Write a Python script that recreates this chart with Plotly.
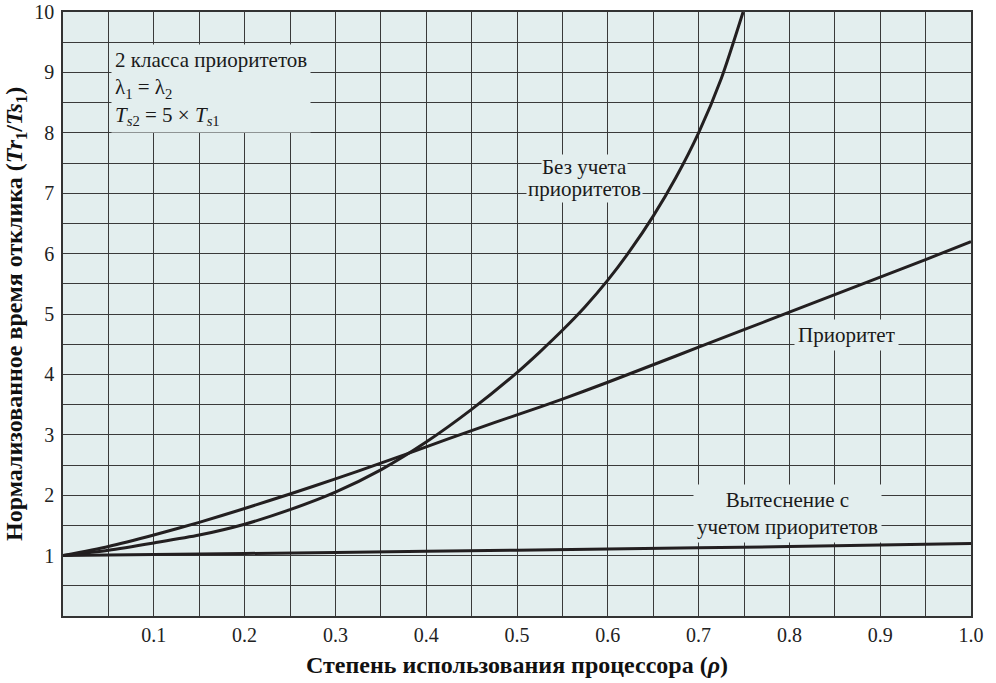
import plotly.graph_objects as go

# ---- data ----
rho_no_priority = [0, 0.05, 0.1, 0.15, 0.2, 0.25, 0.3, 0.35, 0.4, 0.45, 0.5, 0.525,
                   0.55, 0.575, 0.6, 0.625, 0.65, 0.675, 0.7, 0.725, 0.749]
tr_no_priority = [1.0, 1.09, 1.21, 1.34, 1.52, 1.76, 2.05, 2.42, 2.88, 3.42, 4.03, 4.37,
                  4.73, 5.12, 5.56, 6.06, 6.62, 7.26, 8.0, 8.9, 10.0]

rho_priority = [0, 0.05, 0.1, 0.15, 0.2, 0.25, 0.3, 0.35, 0.4, 0.45, 0.5,
                0.55, 0.6, 0.65, 0.7, 0.75, 0.8, 0.85, 0.9, 0.95, 1.0]
tr_priority = [1.0, 1.15, 1.34, 1.55, 1.78, 2.02, 2.27, 2.53, 2.80, 3.07, 3.33,
               3.59, 3.87, 4.16, 4.45, 4.74, 5.03, 5.32, 5.61, 5.9, 6.2]

rho_preempt = [0, 0.2, 0.4, 0.6, 0.8, 1.0]
tr_preempt = [1.0, 1.035, 1.07, 1.11, 1.15, 1.2]

x_tick_vals = [0.1, 0.2, 0.3, 0.4, 0.5, 0.6, 0.7, 0.8, 0.9, 1.0]
x_tick_text = ["0.1", "0.2", "0.3", "0.4", "0.5", "0.6", "0.7", "0.8", "0.9", "1.0"]
y_tick_vals = [1, 2, 3, 4, 5, 6, 7, 8, 9, 10]
y_tick_text = ["1", "2", "3", "4", "5", "6", "7", "8", "9", "10"]

FONT = "Liberation Serif, serif"
BG = "#e3eeee"
GRID = "#3a3a3a"
LINE = "#231f20"

fig = go.Figure()
for xs, ys in [(rho_no_priority, tr_no_priority), (rho_priority, tr_priority),
               (rho_preempt, tr_preempt)]:
    fig.add_trace(go.Scatter(x=xs, y=ys, mode="lines",
                             line=dict(color=LINE, width=3, shape="spline", smoothing=0.7),
                             showlegend=False, hoverinfo="skip"))

ann_font = dict(family=FONT, size=21, color="#1a1a1a")
annotations = [
    dict(x=0.053, y=8.73, xanchor="left", yanchor="middle", align="left", borderpad=3,
         text="2 класса приоритетов<br>λ<sub>1</sub> = λ<sub>2</sub><br>"
              "<i>T</i><sub><i>s</i>2</sub> = 5 × <i>T</i><sub><i>s</i>1</sub>"),
    dict(x=0.574, y=7.07, xanchor="center", yanchor="middle", borderpad=1,
         text="приоритетов"),
    dict(x=0.574, y=7.44, xanchor="center", yanchor="middle", borderpad=0,
         text="Без учета"),
    dict(x=0.863, y=4.65, xanchor="center", yanchor="middle", borderpad=3,
         text="Приоритет"),
    dict(x=0.798, y=1.705, xanchor="center", yanchor="middle", borderpad=3,
         text="Вытеснение с<br>учетом приоритетов"),
]
for a in annotations:
    a.update(xref="x", yref="y", showarrow=False, bgcolor=BG, font=ann_font)

title_font = dict(family=FONT, size=24, color="#111")
annotations += [
    dict(xref="paper", yref="paper", x=0.5, y=0, xanchor="center", yanchor="middle",
         yshift=-49, showarrow=False, font=title_font,
         text="<b>Степень использования процессора (<i>ρ</i>)</b>"),
    dict(xref="paper", yref="paper", x=0, y=0.5, xanchor="center", yanchor="middle",
         xshift=-47, textangle=-90, showarrow=False, font=title_font,
         text="<b>Нормализованное время отклика (<i>Tr</i><sub>1</sub>/<i>Ts</i><sub>1</sub>)</b>"),
]

fig.update_layout(
    width=996, height=683,
    margin=dict(l=63, r=25, t=12, b=67, autoexpand=False),
    paper_bgcolor="white", plot_bgcolor=BG,
    font=dict(family=FONT, size=20, color="#222"),
    annotations=annotations,
    xaxis=dict(range=[0, 1], tickmode="array", tickvals=x_tick_vals, ticktext=x_tick_text,
               showgrid=True, gridcolor=GRID, gridwidth=1.3, zeroline=False,
               minor=dict(dtick=0.05, tick0=0, showgrid=True, gridcolor=GRID, gridwidth=1.3),
               showline=True, mirror=True, linecolor="#333", linewidth=1.5,
               ticks="", automargin=False, ticklabeloverflow="allow",
               tickfont=dict(family=FONT, size=20, color="#222")),
    yaxis=dict(range=[0, 10], tickmode="array", tickvals=y_tick_vals, ticktext=y_tick_text,
               showgrid=True, gridcolor=GRID, gridwidth=1.3, zeroline=False,
               minor=dict(dtick=0.5, tick0=0, showgrid=True, gridcolor=GRID, gridwidth=1.3),
               showline=True, mirror=True, linecolor="#333", linewidth=1.5,
               ticks="outside", ticklen=3, tickcolor="rgba(0,0,0,0)", automargin=False,
               ticklabeloverflow="allow",
               tickfont=dict(family=FONT, size=20, color="#222")),
)

fig.write_html("out.html", config={"displayModeBar": False},
               post_script="document.body.style.margin='0';document.body.style.overflow='hidden';")
